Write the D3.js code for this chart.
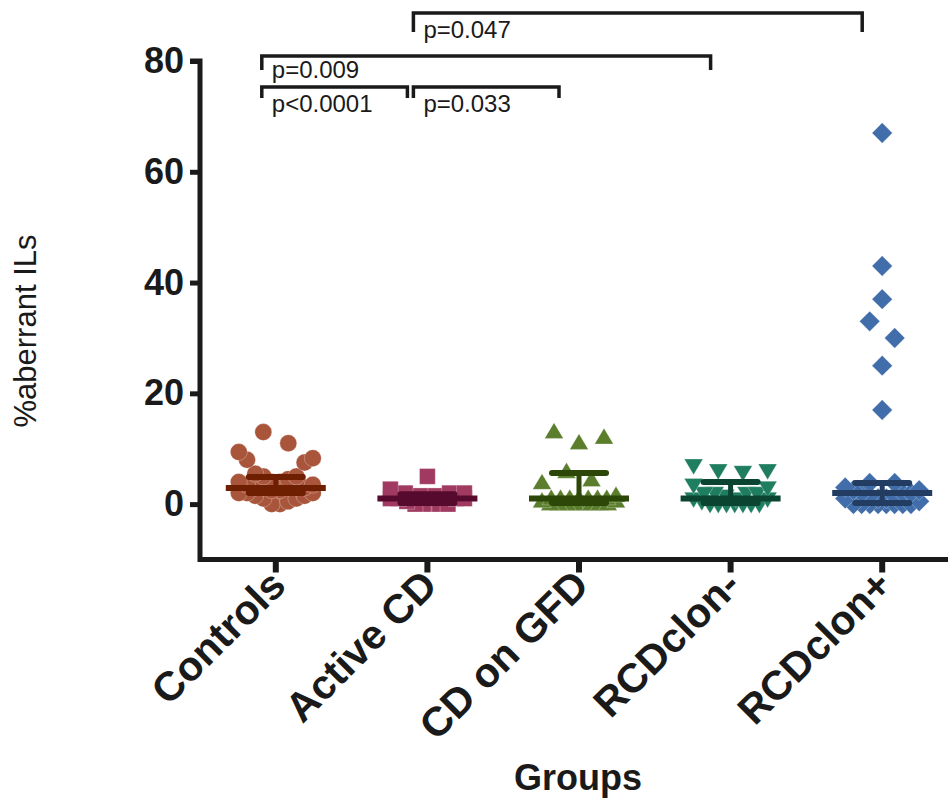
<!DOCTYPE html>
<html>
<head>
<meta charset="utf-8">
<script src="https://cdn.jsdelivr.net/npm/d3@7"></script>
<style>
  html, body { margin: 0; padding: 0; background: #fff; }
  svg { display: block; }
</style>
</head>
<body>
<svg id="chart" width="948" height="798"></svg>
<script>
// Groups along the x axis
const groups = ["Controls", "Active CD", "CD on GFD", "RCDclon-", "RCDclon+"];

// % aberrant ILs per patient, one list per group
const controls = [0, 0, 0.5, 1, 1, 1.5, 1.5, 2, 2, 2, 2.5, 2.5, 3, 3, 3, 3, 3, 3.5, 3.5, 4, 4, 4, 4.5, 5, 5, 5.5, 7.5, 8, 8.3, 9.4, 11, 13];
const activeCD = [0, 0, 0, 0, 0, 0.5, 1, 1, 1, 1, 1.5, 1.5, 2, 2, 2, 2.7, 5];
const cdOnGFD = [0, 0, 0, 0, 0, 0, 0, 0, 0.5, 0.5, 1, 1, 1, 1, 1, 1, 1, 1.5, 3.8, 4.3, 5.8, 11, 12, 13];
const rcdNeg = [0, 0, 0, 0, 0, 0, 0, 0.5, 1, 1, 1, 1.5, 2, 2, 2, 2, 3, 3.5, 5.8, 6.1, 6.1, 7];
const rcdPos = [0, 0, 0, 0, 0, 0, 0, 0, 0.5, 1, 1, 1, 1.5, 1.5, 2, 2, 2, 2.5, 2.5, 3, 3.8, 3.8, 17, 25, 30, 33, 37, 43, 67];

// Median and interquartile range per group
const medians = [2.9, 1.0, 1.0, 1.0, 2.0];
const q1 = [2.0, 0.2, 0.2, 0.2, 0.2];
const q3 = [4.9, 1.8, 5.6, 4.0, 3.8];

// Y axis ticks
const yTicks = [0, 20, 40, 60, 80];

// Pairwise comparisons shown above the plot
const compA = ["Active CD", "Controls", "Controls", "Active CD"];
const compB = ["RCDclon+", "RCDclon-", "Active CD", "CD on GFD"];
const compP = ["p=0.047", "p=0.009", "p<0.0001", "p=0.033"];
const compLevel = [0, 1, 2, 2];

const seriesValues = [controls, activeCD, cdOnGFD, rcdNeg, rcdPos];
const markerFill = ["#A9553B", "#A03A60", "#5B7E2C", "#1F7E60", "#416EAA"];
const barColor = ["#6E1F02", "#560A2E", "#2D4709", "#0B4532", "#233D62"];
const symbols = ["circle", "square", "triangleUp", "triangleDown", "diamond"];
// vertical reach (px) of one row of side-by-side points, per group
const rowReach = [32, 17, 17, 17, 17];

const svg = d3.select("#chart");
const font = "'Liberation Sans', Arial, Helvetica, sans-serif";

const x = d3.scaleBand().domain(groups).range([200, 958]).padding(0);
const cx = g => x(g) + x.bandwidth() / 2;
const y = d3.scaleLinear().domain([-10, 80]).range([559.5, 61]);

// Marker shapes
function markerPath(kind, s) {
  switch (kind) {
    case "circle": return d3.symbol(d3.symbolCircle, Math.PI * s * s)();
    case "square": return d3.symbol(d3.symbolSquare, (s * 1.85) ** 2)();
    case "diamond": {
      const r = s * 1.2;
      return `M0,${-r}L${r},0L0,${r}L${-r},0Z`;
    }
    case "triangleUp": {
      const h = s * 1.85, w = s * 1.1;
      return `M0,${-h * 0.6}L${w},${h * 0.4}L${-w},${h * 0.4}Z`;
    }
    case "triangleDown": {
      const h = s * 1.85, w = s * 1.1;
      return `M0,${h * 0.6}L${w},${-h * 0.4}L${-w},${-h * 0.4}Z`;
    }
  }
}

// Scatter-dot layout: sorted points fill rows (a row holds points that
// would overlap vertically, up to a maximum count); inside a row the
// smallest values sit in the middle and larger ones alternate outwards.
function scatterRows(values, centre, rowH, rowMax, maxHalf, maxStep) {
  const sorted = values.slice().sort((a, b) => a - b);
  const rows = [];
  sorted.forEach(v => {
    const row = rows[rows.length - 1];
    if (row && row.length < rowMax && y(row[0]) - y(v) <= rowH) row.push(v);
    else rows.push([v]);
  });
  const out = [];
  rows.forEach(row => {
    const n = row.length;
    const step = n > 1 ? Math.min(maxStep, (2 * maxHalf) / (n - 1)) : 0;
    row.forEach((v, i) => {
      let slot;
      if (n % 2 === 1) slot = i === 0 ? 0 : Math.ceil(i / 2) * (i % 2 ? 1 : -1);
      else slot = (Math.floor(i / 2) + 0.5) * (i % 2 ? -1 : 1);
      out.push({ x: centre + slot * step, y: y(v), v });
    });
  });
  return out;
}

// Scatter markers
seriesValues.forEach((vals, gi) => {
  const g = groups[gi];
  const pts = scatterRows(vals, cx(g), rowReach[gi], 10, 37, 25);
  svg.append("g")
    .selectAll("path")
    .data(pts)
    .join("path")
    .attr("transform", d => `translate(${d.x},${d.y})`)
    .attr("d", markerPath(symbols[gi], 8.5))
    .attr("fill", markerFill[gi])
    .attr("stroke", "#ffffff")
    .attr("stroke-opacity", 0.35)
    .attr("stroke-width", 0.8);
});

// Median with interquartile range
groups.forEach((g, gi) => {
  const c = cx(g);
  const bar = svg.append("g")
    .attr("stroke", barColor[gi])
    .attr("stroke-linecap", "round");
  bar.append("line")
    .attr("x1", c).attr("x2", c)
    .attr("y1", y(q1[gi])).attr("y2", y(q3[gi]))
    .attr("stroke-width", 5);
  [q1[gi], q3[gi]].forEach(v => {
    bar.append("line")
      .attr("x1", c - 27).attr("x2", c + 27)
      .attr("y1", y(v)).attr("y2", y(v))
      .attr("stroke-width", 6);
  });
  bar.append("line")
    .attr("x1", c - 50).attr("x2", c + 50)
    .attr("y1", y(medians[gi])).attr("y2", y(medians[gi]))
    .attr("stroke-width", 6)
    .attr("stroke-linecap", "butt");
});

// Axes
const axisColor = "#1a1a1a";
const yAxis = svg.append("g")
  .attr("transform", "translate(200,0)")
  .call(d3.axisLeft(y).tickValues(yTicks).tickSize(10).tickSizeOuter(0).tickPadding(6));
yAxis.select(".domain").remove();
yAxis.selectAll(".tick line").attr("stroke", axisColor).attr("stroke-width", 5);
yAxis.selectAll(".tick text")
  .attr("font-family", font).attr("font-weight", "bold")
  .attr("font-size", 36).attr("fill", "#1a1a1a");

svg.append("path")
  .attr("d", `M190,${y(80)}H200V${y(-10)}H958`)
  .attr("fill", "none")
  .attr("stroke", axisColor)
  .attr("stroke-width", 5)
  .attr("stroke-linejoin", "miter");

const xAxis = svg.append("g")
  .attr("transform", `translate(0,${y(-10)})`)
  .call(d3.axisBottom(x).tickSize(13).tickSizeOuter(0).tickFormat(""));
xAxis.select(".domain").remove();
xAxis.selectAll(".tick line").attr("stroke", axisColor).attr("stroke-width", 6);

// Rotated group labels
svg.append("g")
  .selectAll("text")
  .data(groups)
  .join("text")
  .attr("transform", d => `translate(${cx(d) + 12},${y(-10) + 28}) rotate(-45)`)
  .attr("text-anchor", "end")
  .attr("font-family", font)
  .attr("font-weight", "bold")
  .attr("font-size", 41)
  .attr("fill", "#1a1a1a")
  .text(d => d);

// Axis titles
svg.append("text")
  .attr("x", 578).attr("y", 790)
  .attr("text-anchor", "middle")
  .attr("font-family", font).attr("font-weight", "bold")
  .attr("font-size", 36).attr("fill", "#1a1a1a")
  .text("Groups");

svg.append("text")
  .attr("transform", "translate(36,331) rotate(-90)")
  .attr("text-anchor", "middle")
  .attr("font-family", font)
  .attr("font-size", 31).attr("fill", "#1a1a1a")
  .text("%aberrant ILs");

// Significance brackets
const levelY = [13, 56, 87];
const dropLen = [19, 14, 11];
const textY = [38, 78, 112];
compP.forEach((p, i) => {
  const x1 = cx(compA[i]) - 14;
  const x2 = cx(compB[i]) - 20;
  const ly = levelY[compLevel[i]];
  const dl = dropLen[compLevel[i]];
  svg.append("path")
    .attr("d", `M${x1},${ly + dl}V${ly}H${x2}V${ly + dl}`)
    .attr("fill", "none")
    .attr("stroke", "#1a1a1a")
    .attr("stroke-width", 3.5);
  svg.append("text")
    .attr("x", x1 + 10).attr("y", textY[compLevel[i]])
    .attr("font-family", font)
    .attr("font-size", 24)
    .attr("fill", "#1a1a1a")
    .text(p);
});
</script>
</body>
</html>
